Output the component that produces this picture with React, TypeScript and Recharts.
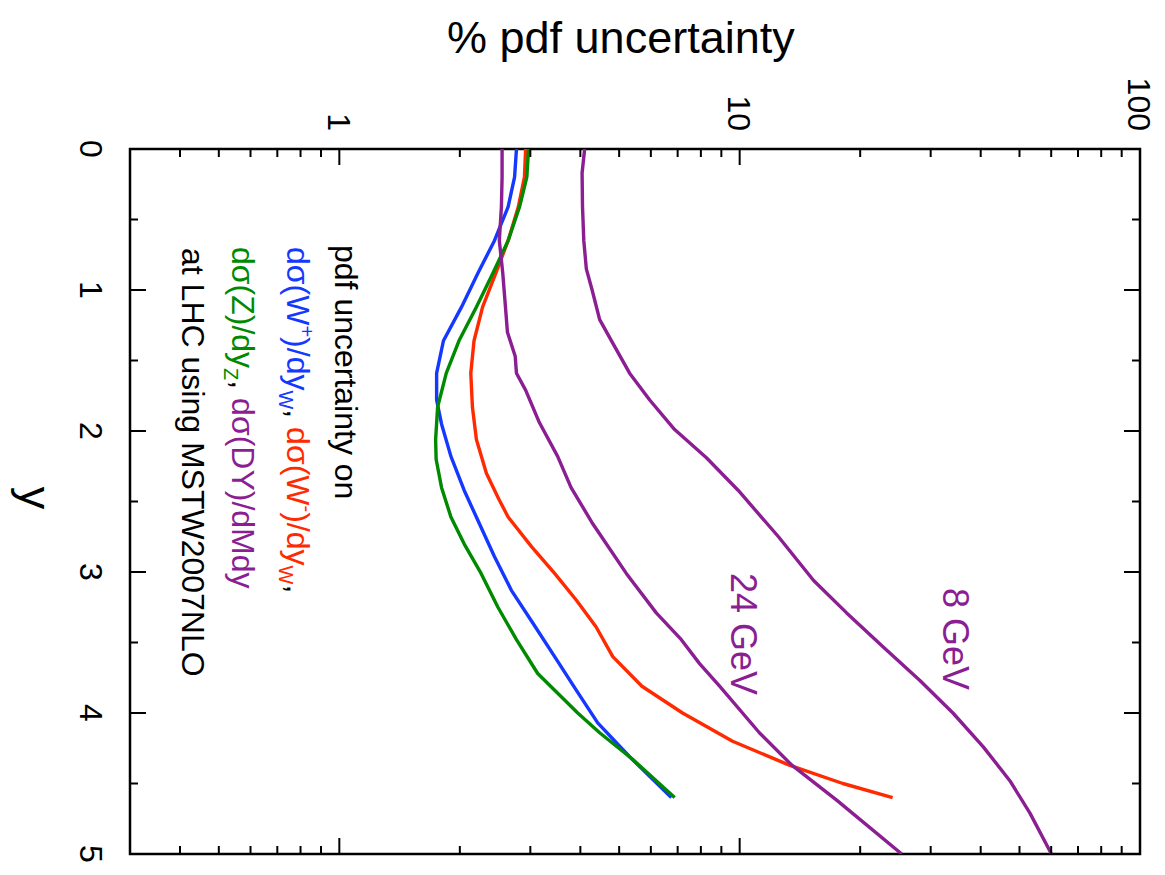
import { Customized, Line, LineChart, ReferenceArea, XAxis, YAxis } from "recharts";

const WIDTH = 1165;
const HEIGHT = 875;
// plot box edges, used to mirror tick marks onto the far sides of the frame
const PLOT = { left: 130, right: 1140, top: 149, bottom: 854 };
const FONT = '"Liberation Sans", Arial, Helvetica, sans-serif';

const BLUE = "#1438ff";
const RED = "#ff2a00";
const GREEN = "#008a00";
const PURPLE = "#8b1e92";

// [rapidity y, % pdf uncertainty]
const wPlus: [number, number][] = [
  [0, 2.77], [0.2, 2.74], [0.41, 2.64], [0.65, 2.44], [0.88, 2.22], [1.12, 2.02],
  [1.36, 1.82], [1.59, 1.75], [1.78, 1.75], [1.95, 1.8], [2.18, 1.9], [2.42, 2.05],
  [2.66, 2.24], [2.89, 2.44], [3.13, 2.69], [3.36, 3.04], [3.6, 3.45], [3.84, 3.91],
  [4.07, 4.42], [4.31, 5.31], [4.6, 6.75],
];
const wMinus: [number, number][] = [
  [0, 2.92], [0.2, 2.9], [0.41, 2.8], [0.65, 2.64], [0.88, 2.46], [1.12, 2.28],
  [1.36, 2.17], [1.59, 2.13], [1.83, 2.15], [2.06, 2.2], [2.3, 2.33], [2.48, 2.5],
  [2.61, 2.64], [2.82, 3.02], [3.01, 3.45], [3.2, 3.91], [3.39, 4.38], [3.6, 4.82],
  [3.81, 5.7], [4.0, 7.2], [4.2, 9.6], [4.37, 13.3], [4.5, 18.1], [4.6, 24.1],
];
const zBoson: [number, number][] = [
  [0, 2.97], [0.2, 2.94], [0.41, 2.82], [0.65, 2.64], [0.88, 2.42], [1.12, 2.2],
  [1.36, 1.99], [1.59, 1.85], [1.83, 1.76], [2.06, 1.74], [2.2, 1.745], [2.4, 1.8],
  [2.61, 1.9], [2.8, 2.05], [3.01, 2.26], [3.25, 2.49], [3.48, 2.77], [3.72, 3.13],
  [4.0, 3.94], [4.14, 4.47], [4.33, 5.41], [4.6, 6.88],
];
const dy24: [number, number][] = [
  [0, 2.55], [0.2, 2.55], [0.41, 2.54], [0.65, 2.51], [0.88, 2.56], [1.12, 2.6],
  [1.3, 2.63], [1.47, 2.75], [1.59, 2.77], [1.71, 2.92], [1.94, 3.16], [2.18, 3.51],
  [2.4, 3.79], [2.66, 4.3], [3.01, 5.21], [3.29, 6.19], [3.48, 7.15], [3.65, 7.94],
  [3.81, 8.91], [4.14, 11.2], [4.37, 13.5], [4.62, 17.5], [5.0, 25.4],
];
const dy8: [number, number][] = [
  [0, 4.1], [0.17, 4.04], [0.41, 4.05], [0.65, 4.08], [0.85, 4.14], [1.0, 4.28],
  [1.21, 4.47], [1.4, 4.87], [1.59, 5.31], [1.78, 5.96], [1.99, 6.88], [2.19, 8.26],
  [2.42, 9.91], [2.75, 12.5], [3.06, 15.3], [3.29, 18.5], [3.53, 22.8], [3.77, 28.2],
  [4.0, 34.1], [4.24, 40.6], [4.48, 47.3], [4.71, 53.1], [5.0, 60.1],
];

const pctMajor = [1, 10, 100];
const pctTicks = [
  0.4, 0.5, 0.6, 0.7, 0.8, 0.9, 1, 2, 3, 4, 5, 6, 7, 8, 9, 10,
  20, 30, 40, 50, 60, 70, 80, 90, 100,
];
const rapTicks = [0, 0.5, 1, 1.5, 2, 2.5, 3, 3.5, 4, 4.5, 5];

const series = [
  { key: "wplus", points: wPlus, color: BLUE },
  { key: "wminus", points: wMinus, color: RED },
  { key: "z", points: zBoson, color: GREEN },
  { key: "dy24", points: dy24, color: PURPLE },
  { key: "dy8", points: dy8, color: PURPLE },
];

const toRows = (pts: [number, number][]) => pts.map(([y, pct]) => ({ y, pct }));

function PctTick(props: any) {
  const { x, payload } = props;
  const v = payload.value as number;
  const major = pctMajor.includes(v);
  const len = major ? 16 : 8;
  return (
    <g>
      <line x1={x} x2={x} y1={PLOT.top} y2={PLOT.top + len} stroke="#000" strokeWidth={2} />
      <line x1={x} x2={x} y1={PLOT.bottom} y2={PLOT.bottom - len} stroke="#000" strokeWidth={2} />
      {major && (
        <text
          transform={`translate(${x},131) rotate(90)`}
          textAnchor="end"
          dy="0.36em"
          fontSize={32}
          fontFamily={FONT}
          fill="#000"
        >
          {v}
        </text>
      )}
    </g>
  );
}

function RapTick(props: any) {
  const { y, payload } = props;
  const v = payload.value as number;
  const major = Number.isInteger(v);
  const len = major ? 16 : 8;
  return (
    <g>
      <line x1={PLOT.left} x2={PLOT.left + len} y1={y} y2={y} stroke="#000" strokeWidth={2} />
      <line x1={PLOT.right} x2={PLOT.right - len} y1={y} y2={y} stroke="#000" strokeWidth={2} />
      {major && (
        <text
          transform={`translate(92,${y}) rotate(90)`}
          textAnchor="middle"
          dy="0.36em"
          fontSize={32}
          fontFamily={FONT}
          fill="#000"
        >
          {v}
        </text>
      )}
    </g>
  );
}

// rotated text helper: runs downwards from (x, y), glyph tops facing right
const rot = (x: number, y: number) => `translate(${x},${y}) rotate(90)`;

function Annotations() {
  const sub = 20;
  return (
    <g fontFamily={FONT}>
      <text x={447} y={53} fontSize={45} fill="#000">
        % pdf uncertainty
      </text>
      <text transform={rot(20, 498)} textAnchor="middle" fontSize={45} fill="#000">
        y
      </text>

      <g fontSize={32}>
        <text transform={rot(335, 245)} fill="#000">
          pdf uncertainty on
        </text>
        <text transform={rot(287, 247)}>
          <tspan fill={BLUE}>dσ(W</tspan>
          <tspan fill={BLUE} fontSize={sub} dy={-13}>+</tspan>
          <tspan fill={BLUE} dy={13}>)/dy</tspan>
          <tspan fill={BLUE} fontSize={sub} dy={8}>W</tspan>
          <tspan fill="#000" dy={-8}>, </tspan>
          <tspan fill={RED}>dσ(W</tspan>
          <tspan fill={RED} fontSize={sub} dy={-13}>-</tspan>
          <tspan fill={RED} dy={13}>)/dy</tspan>
          <tspan fill={RED} fontSize={sub} dy={8}>W</tspan>
          <tspan fill="#000" dy={-8}>,</tspan>
        </text>
        <text transform={rot(232, 247)}>
          <tspan fill={GREEN}>dσ(Z)/dy</tspan>
          <tspan fill={GREEN} fontSize={sub} dy={8}>Z</tspan>
          <tspan fill="#000" dy={-8}>, </tspan>
          <tspan fill={PURPLE}>dσ(DY)/dMdy</tspan>
        </text>
        <text transform={rot(182, 248)} fill="#000">
          at LHC using MSTW2007NLO
        </text>
      </g>

      <text transform={rot(943, 588)} fontSize={36} fill={PURPLE}>
        8 GeV
      </text>
      <text transform={rot(731, 573)} fontSize={36} fill={PURPLE}>
        24 GeV
      </text>
    </g>
  );
}

export default function App() {
  return (
    <div style={{ position: "absolute", left: 0, top: 0, width: WIDTH, height: HEIGHT, background: "#fff" }}>
      <LineChart
        width={WIDTH}
        height={HEIGHT}
        layout="vertical"
        margin={{ top: 0, right: WIDTH - PLOT.right, bottom: HEIGHT - PLOT.bottom, left: 0 }}
      >
        <XAxis
          xAxisId={0}
          type="number"
          scale="log"
          domain={[0.3, 100]}
          allowDataOverflow
          orientation="top"
          height={PLOT.top}
          ticks={pctTicks}
          interval={0}
          axisLine={false}
          tickLine={false}
          tick={PctTick}
        />
        <YAxis
          yAxisId={0}
          type="number"
          dataKey="y"
          domain={[0, 5]}
          allowDataOverflow
          orientation="left"
          width={PLOT.left}
          ticks={rapTicks}
          interval={0}
          axisLine={false}
          tickLine={false}
          tick={RapTick}
        />
        <ReferenceArea
          x1={0.3}
          x2={100}
          y1={0}
          y2={5}
          fill="none"
          stroke="#000"
          strokeWidth={2.5}
          ifOverflow="visible"
        />
        {series.map((s) => (
          <Line
            key={s.key}
            data={toRows(s.points)}
            dataKey="pct"
            type="linear"
            stroke={s.color}
            strokeWidth={3.4}
            strokeLinejoin="round"
            dot={false}
            activeDot={false}
            isAnimationActive={false}
          />
        ))}
        <Customized component={Annotations} />
      </LineChart>
    </div>
  );
}
